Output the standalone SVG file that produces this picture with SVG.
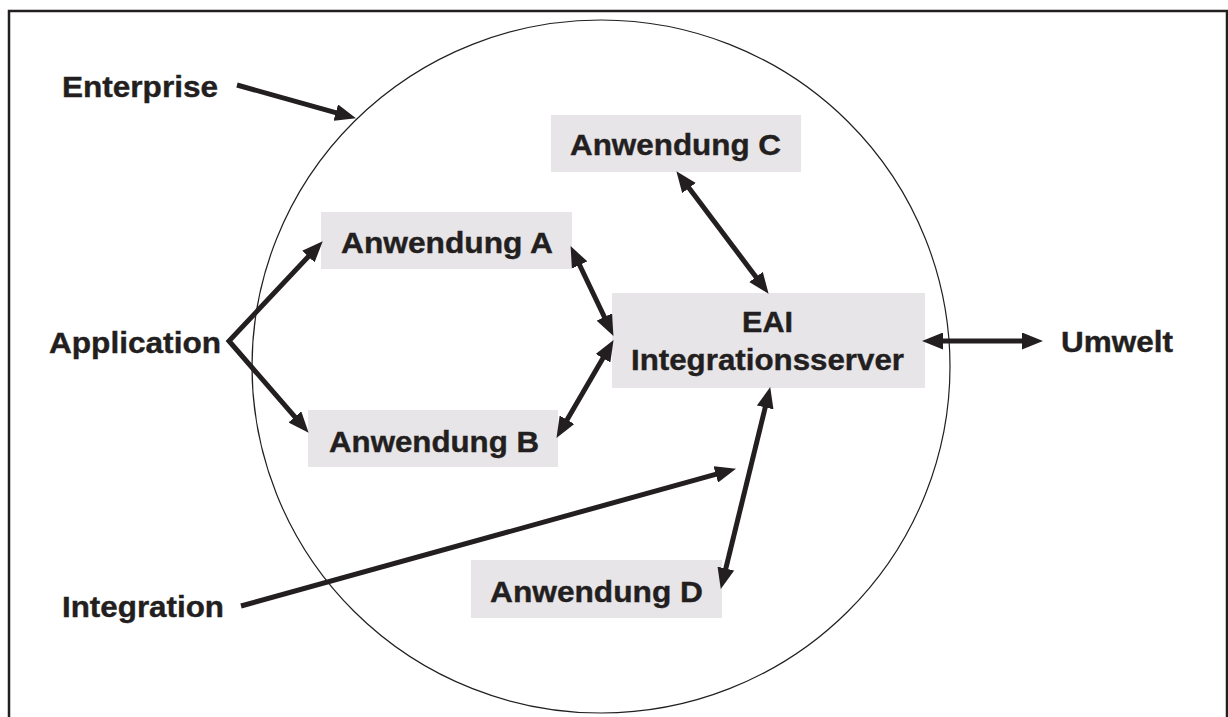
<svg xmlns="http://www.w3.org/2000/svg" width="1228" height="717" viewBox="0 0 1228 717">
  <style>
    .frame { fill: none; stroke: #231f20; stroke-width: 2.5; }
    .scope { fill: none; stroke: #231f20; stroke-width: 1.2; }
    .box { fill: #e7e5e8; }
    .lbl { font-family: "Liberation Sans", Arial, sans-serif; font-weight: bold; font-size: 29.5px; fill: #231f20; stroke: #231f20; stroke-width: 0.4; text-anchor: middle; }
    .conn { fill: none; stroke: #231f20; stroke-width: 5; stroke-linejoin: miter; stroke-miterlimit: 10; }
  </style>
  <defs>
    <marker id="head" viewBox="0 -8.5 21 17" markerUnits="userSpaceOnUse" markerWidth="21" markerHeight="17" refX="10" refY="0" orient="auto-start-reverse">
      <path d="M0,-8.5 L21,0 L0,8.5 Z" fill="#231f20"/>
    </marker>
  </defs>

  <!-- outer frame (open at the bottom edge) and enterprise boundary -->
  <rect class="frame" x="9" y="11" width="1218" height="720"/>
  <ellipse class="scope" cx="601" cy="366.5" rx="349" ry="346.5"/>

  <g id="enterprise-label">
    <text class="lbl" x="140" y="97" textLength="156" lengthAdjust="spacingAndGlyphs">Enterprise</text>
  </g>
  <g id="application-label">
    <text class="lbl" x="135" y="353" textLength="172" lengthAdjust="spacingAndGlyphs">Application</text>
  </g>
  <g id="integration-label">
    <text class="lbl" x="143" y="617" textLength="162" lengthAdjust="spacingAndGlyphs">Integration</text>
  </g>
  <g id="umwelt">
    <text class="lbl" x="1117" y="352" textLength="112" lengthAdjust="spacingAndGlyphs">Umwelt</text>
  </g>

  <g id="anwendung-a">
    <rect class="box" x="321" y="212" width="251" height="57"/>
    <text class="lbl" x="447" y="253" textLength="212" lengthAdjust="spacingAndGlyphs">Anwendung A</text>
  </g>
  <g id="anwendung-b">
    <rect class="box" x="308" y="410" width="250" height="57"/>
    <text class="lbl" x="434" y="452" textLength="210" lengthAdjust="spacingAndGlyphs">Anwendung B</text>
  </g>
  <g id="anwendung-c">
    <rect class="box" x="551" y="115" width="250" height="57"/>
    <text class="lbl" x="675.5" y="155" textLength="211" lengthAdjust="spacingAndGlyphs">Anwendung C</text>
  </g>
  <g id="eai-server">
    <rect class="box" x="612" y="293" width="313" height="95"/>
    <text class="lbl" x="767.5" y="332" textLength="51" lengthAdjust="spacingAndGlyphs">EAI</text>
    <text class="lbl" x="767.5" y="370" textLength="273" lengthAdjust="spacingAndGlyphs">Integrationsserver</text>
  </g>
  <g id="anwendung-d">
    <rect class="box" x="471" y="560" width="251" height="58"/>
    <text class="lbl" x="596.5" y="602" textLength="213" lengthAdjust="spacingAndGlyphs">Anwendung D</text>
  </g>

  <g id="connectors">
    <line class="conn" x1="237" y1="85" x2="345.4" y2="115.3" marker-end="url(#head)"/>
    <path class="conn" d="M315.2,249.3 L229,341 L301.4,424.4" marker-start="url(#head)" marker-end="url(#head)"/>
    <line class="conn" x1="575.3" y1="256" x2="608.7" y2="326" marker-start="url(#head)" marker-end="url(#head)"/>
    <line class="conn" x1="562" y1="428.4" x2="608" y2="349.6" marker-start="url(#head)" marker-end="url(#head)"/>
    <line class="conn" x1="683" y1="180" x2="762" y2="285" marker-start="url(#head)" marker-end="url(#head)"/>
    <line class="conn" x1="933" y1="341" x2="1032" y2="341" marker-start="url(#head)" marker-end="url(#head)"/>
    <line class="conn" x1="767.6" y1="397.7" x2="723.4" y2="578.3" marker-start="url(#head)" marker-end="url(#head)"/>
    <line class="conn" x1="241" y1="606" x2="725.4" y2="471.7" marker-end="url(#head)"/>
  </g>
</svg>
